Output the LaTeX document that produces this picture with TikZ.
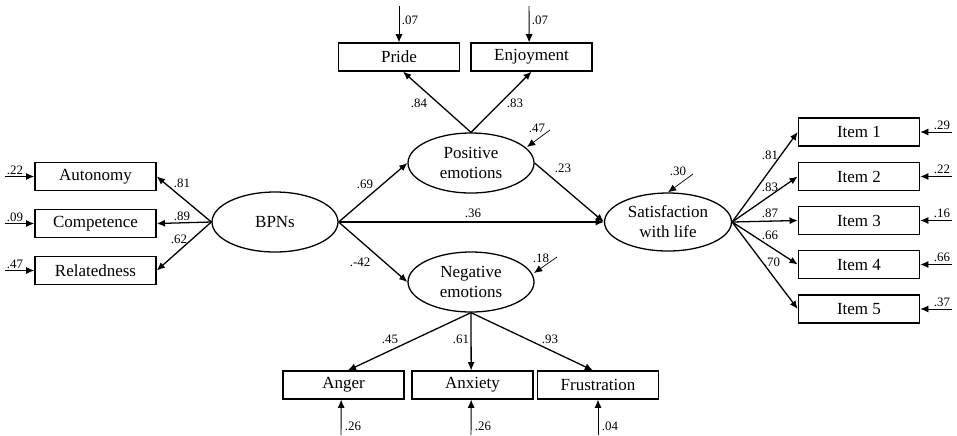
\documentclass[tikz,border=0pt]{standalone}
\usepackage{fontspec}
\setmainfont{Liberation Serif}
\usetikzlibrary{arrows.meta,shapes.geometric}
\tikzset{
  box/.style={draw,line width=1.3pt,minimum width=3.63cm,minimum height=0.83cm,inner sep=0pt,font=\fontsize{14.5}{15}\selectfont},
  lat/.style={draw,ellipse,line width=1.1pt,minimum width=3.78cm,minimum height=1.8cm,inner sep=0pt,align=center,font=\fontsize{14.5}{17}\selectfont},
  path/.style={line width=1.1pt,-{Latex[length=7pt,width=6pt]}},
  err/.style={line width=0.8pt,-{Latex[length=7pt,width=6pt]}},
  res/.style={line width=0.6pt,-{Latex[length=7pt,width=6pt]}},
  num/.style={inner sep=0pt,font=\fontsize{11}{11}\selectfont}
}
\begin{document}
\begin{tikzpicture}[x=0.03cm,y=-0.03cm]
\useasboundingbox (0,0) rectangle (957,435);
% latent variables
\node[lat] (bpn) at (275,222) {BPNs};
\node[lat] (pos) at (471,163) {Positive\\emotions};
\node[lat] (neg) at (471,282) {Negative\\emotions};
\node[lat,minimum width=3.81cm,minimum height=1.74cm] (sat) at (668,222) {Satisfaction\\with life};
% left indicators
\node[box] (aut) at (95.5,176.5) {Autonomy};
\node[box] (com) at (95.5,223.5) {Competence};
\node[box] (rel) at (95.5,270.5) {Relatedness};
% top indicators
\node[box] (pri) at (399,57) {Pride};
\node[box] (enj) at (531.5,57) {Enjoyment};
% bottom indicators
\node[box] (ang) at (343.5,385) {Anger};
\node[box] (anx) at (472.5,385) {Anxiety};
\node[box] (fru) at (598,385) {Frustration};
% right indicators
\node[box] (i1) at (859,132) {Item 1};
\node[box] (i2) at (859,176.5) {Item 2};
\node[box] (i3) at (859,220.5) {Item 3};
\node[box] (i4) at (859,264.5) {Item 4};
\node[box] (i5) at (859,309) {Item 5};
% structural paths
\draw[path] (bpn.east) -- (pos.west);
\draw[path] (bpn.east) -- (neg.west);
\draw[path] (bpn.east) -- (sat.west);
\draw[path] (pos.east) -- (sat.west);
\node[num] at (365,184) {.69};
\node[num] at (360,262) {.-42};
\node[num] at (473,213) {.36};
\node[num] at (563,168) {.23};
% BPN loadings
\draw[path] (bpn.west) -- (aut.east);
\draw[path] (bpn.west) -- (com.east);
\draw[path] (bpn.west) -- (rel.east);
\node[num] at (182,183) {.81};
\node[num] at (182,216) {.89};
\node[num] at (179,239) {.62};
% positive loadings
\draw[path] (pos.north) -- ([xshift=0.12cm]pri.south);
\draw[path] (pos.north) -- (enj.south);
\node[num] at (419,103) {.84};
\node[num] at (515,103) {.83};
% negative loadings
\draw[path] (neg.south) -- ([xshift=0.13cm]ang.north);
\draw[path] (neg.south) -- ([xshift=-0.04cm]anx.north);
\draw[path] (neg.south) -- ([xshift=-0.15cm]fru.north);
\node[num] at (390,339) {.45};
\node[num] at (461,339) {.61};
\node[num] at (550,339) {.93};
% satisfaction loadings
\draw[path] (sat.east) -- (i1.west);
\draw[path] (sat.east) -- (i2.west);
\draw[path] (sat.east) -- (i3.west);
\draw[path] (sat.east) -- (i4.west);
\draw[path] (sat.east) -- (i5.west);
\node[num] at (770,155) {.81};
\node[num] at (770,187) {.83};
\node[num] at (770,213) {.87};
\node[num] at (770,235) {.66};
\node[num] at (772,262) {.70};
% error terms left
\coordinate (eaut) at (5,176.5);
\coordinate (ecom) at (5,223.5);
\coordinate (erel) at (5,270.5);
\draw[err] (eaut) -- (aut.west);
\draw[err] (ecom) -- (com.west);
\draw[err] (erel) -- (rel.west);
\node[num] at (15,170) {.22};
\node[num] at (15,217) {.09};
\node[num] at (15,264) {.47};
% error terms top
\coordinate (epri) at (399,6);
\coordinate (eenj) at (529,6);
\draw[err] (epri) -- (pri.north);
\draw[err] (eenj) -- ([xshift=-0.07cm]enj.north);
\node[num] at (410,20) {.07};
\node[num] at (540,20) {.07};
% error terms bottom
\coordinate (eang) at (341,435);
\coordinate (eanx) at (471,435);
\coordinate (efru) at (598,435);
\draw[err] (eang) -- ([xshift=-0.07cm]ang.south);
\draw[err] (eanx) -- ([xshift=-0.04cm]anx.south);
\draw[err] (efru) -- (fru.south);
\node[num] at (353,426) {.26};
\node[num] at (483,426) {.26};
\node[num] at (610,426) {.04};
% error terms right
\coordinate (ei1) at (952,132);
\coordinate (ei2) at (952,176.5);
\coordinate (ei3) at (952,220.5);
\coordinate (ei4) at (952,264.5);
\coordinate (ei5) at (952,309);
\draw[err] (ei1) -- (i1.east);
\draw[err] (ei2) -- (i2.east);
\draw[err] (ei3) -- (i3.east);
\draw[err] (ei4) -- (i4.east);
\draw[err] (ei5) -- (i5.east);
\node[num] at (942,125) {.29};
\node[num] at (942,169) {.22};
\node[num] at (942,213) {.16};
\node[num] at (942,257) {.66};
\node[num] at (942,302) {.37};
% residuals
\coordinate (rpos) at (550,130);
\coordinate (rneg) at (557,257);
\coordinate (rsat) at (693,174);
\draw[res] (rpos) -- (527,147);
\draw[res] (rneg) -- (534,273);
\draw[res] (rsat) -- (sat.north);
\node[num] at (537,128) {.47};
\node[num] at (541,258) {.18};
\node[num] at (678,171) {.30};
\end{tikzpicture}
\end{document}
